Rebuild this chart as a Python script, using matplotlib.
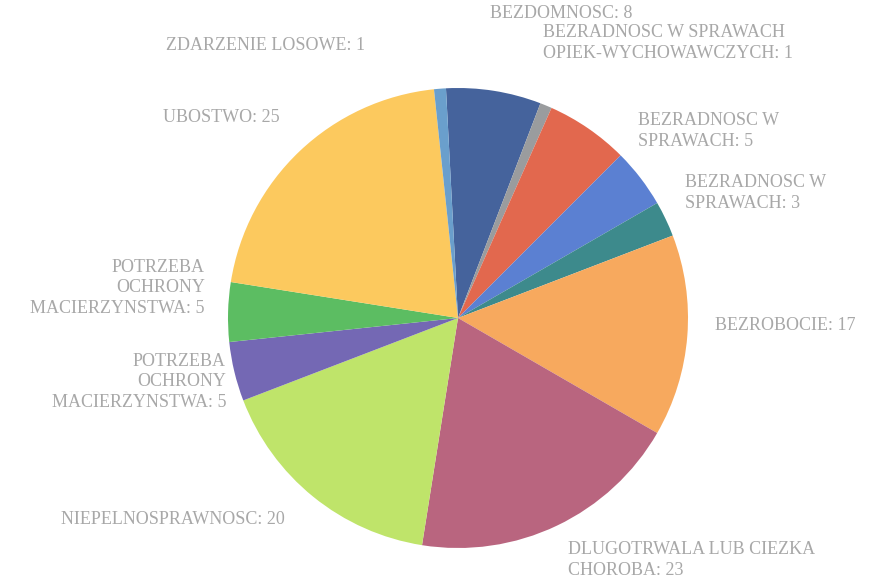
import matplotlib
matplotlib.use("Agg")
import matplotlib.pyplot as plt

# slices in clockwise order from the top (alphabetical, as in the source sheet)
categories = [
    "BEZDOMNOSC",
    "BEZRADNOSC W SPRAWACH\nOPIEK-WYCHOWAWCZYCH",
    "BEZRADNOSC W SPRAWACH OPIEK.-WYCH.",   # label not printed on the scan
    "BEZRADNOSC W\nSPRAWACH",
    "BEZRADNOSC W\nSPRAWACH",
    "BEZROBOCIE",
    "DLUGOTRWALA LUB CIEZKA\nCHOROBA",
    "NIEPELNOSPRAWNOSC",
    "POTRZEBA\nOCHRONY\nMACIERZYNSTWA",
    "POTRZEBA\nOCHRONY\nMACIERZYNSTWA",
    "UBOSTWO",
    "ZDARZENIE LOSOWE",
]
values = [8, 1, 7, 5, 3, 17, 23, 20, 5, 5, 25, 1]
show_label = [True, True, False, True, True, True, True, True, True, True, True, True]

colors = ["#45639c", "#9a9c9e", "#e2684e", "#5b80d2", "#3d8a8c", "#f7a95e",
          "#b9657f", "#bfe46a", "#7468b4", "#5cbd62", "#fcc95e", "#6a9fcc"]

# label anchors in image pixels (x, y from top-left) and alignment
label_xy = [(490, 13), (543, 43), None, (638, 131), (685, 193), (715, 325),
            (568, 560), (285, 520), (226, 382), (205, 288), (280, 118), (365, 45)]
label_ha = ["left", "left", None, "left", "left", "left",
            "left", "right", "right", "right", "right", "right"]

W, H = 882, 587
cx, cy, R = 458, 318, 230

fig = plt.figure(figsize=(W / 100, H / 100), dpi=100)
ax = fig.add_axes([0, 0, 1, 1])
ax.pie(values, colors=colors, startangle=93, counterclock=False,
       wedgeprops=dict(linewidth=0))
ax.set_xlim(-cx / R, (W - cx) / R)
ax.set_ylim(-(H - cy) / R, cy / R)
ax.set_aspect("equal")
ax.axis("off")

for name, v, show, xy, ha in zip(categories, values, show_label, label_xy, label_ha):
    if not show:
        continue
    ax.annotate("{}: {}".format(name, v), xy=(xy[0], H - xy[1]), xycoords="figure pixels",
                ha=ha, va="center", multialignment=ha,
                fontsize=13, family="Liberation Serif", color="#a8a8a8", linespacing=1.25)

fig.savefig("out.png", dpi=100)
